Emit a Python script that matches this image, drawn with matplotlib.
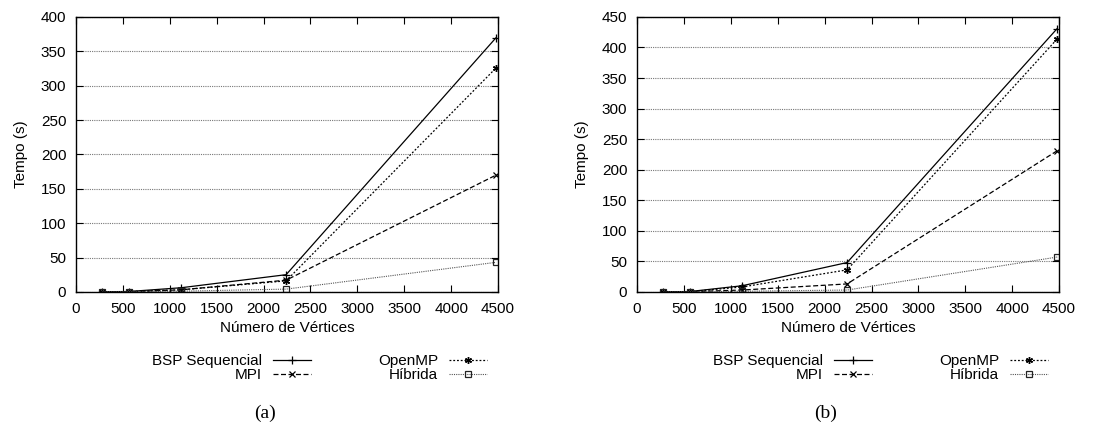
import matplotlib
matplotlib.use("Agg")
import matplotlib.pyplot as plt

plt.rcParams['font.family'] = ['Liberation Sans', 'DejaVu Sans']

# Dados
vertices = [280, 560, 1120, 2240, 4480]

bsp_a = [0.2, 0.5, 6, 25, 370]
mpi_a = [0.2, 0.3, 3, 17, 170]
omp_a = [0.2, 0.3, 3, 16, 326]
hib_a = [0.1, 0.2, 1, 4, 43]

bsp_b = [0.2, 0.5, 10, 48, 431]
mpi_b = [0.2, 0.3, 3, 13, 231]
omp_b = [0.2, 0.3, 8, 36, 414]
hib_b = [0.1, 0.2, 1, 3, 57]

labels = ["BSP Sequencial", "MPI", "OpenMP", "Híbrida"]
xticks = [0, 500, 1000, 1500, 2000, 2500, 3000, 3500, 4000, 4500]


def draw_panel(fig, ax, series, ymax, ystep, caption):
    styles = [
        dict(color='black', linestyle='-', marker='+', lw=0.9, ms=6, mew=0.9),
        dict(color='black', linestyle=(0, (4, 2)), marker='x', lw=0.9, ms=4.5, mew=0.9),
        dict(color='black', linestyle=(0, (1.5, 1.5)), marker=(6, 2, 0), lw=0.9, ms=5, mew=1.0),
        dict(color='#555555', linestyle=(0, (1, 1)), marker='s', lw=0.8, ms=5,
             mfc='none', mec='#222222', mew=0.9),
    ]
    handles = []
    for ys, lab, st in zip(series, labels, styles):
        h, = ax.plot(vertices, ys, label=lab, **st)
        handles.append(h)

    ax.set_xlim(0, 4500)
    ax.set_ylim(0, ymax)
    ax.set_xticks(xticks)
    ax.set_yticks(range(0, ymax + 1, ystep))
    ax.tick_params(direction='in', top=True, right=True, labelsize=11, length=5, pad=7)
    ax.yaxis.grid(True, color='#777777', linestyle=(0, (1, 1)), lw=0.8)
    for sp in ax.spines.values():
        sp.set_linewidth(1.0)
    ax.set_xlabel("Número de Vértices", fontsize=11, labelpad=4)
    ax.set_ylabel("Tempo (s)", fontsize=11, labelpad=9)

    ax.legend(handles=handles, ncol=2, markerfirst=False, frameon=False,
              loc='upper center', bbox_to_anchor=(0.577, -0.198), fontsize=11,
              handlelength=2.5, handletextpad=0.7, columnspacing=4.36,
              labelspacing=0.0, borderpad=0)
    for t in ax.get_legend().get_texts():
        t.set_ha('right')

    pos = ax.get_position()
    fig.text(pos.x0 + 0.5 * pos.width - 0.02, 0.024, caption, ha='center', va='center',
             fontsize=14, family='Liberation Serif')


fig = plt.figure(figsize=(11.18, 4.23), dpi=100)
ax1 = fig.add_axes([0.068, 0.31, 0.3775, 0.65])
ax2 = fig.add_axes([0.5698, 0.31, 0.3775, 0.65])

draw_panel(fig, ax1, [bsp_a, mpi_a, omp_a, hib_a], 400, 50, "(a)")
draw_panel(fig, ax2, [bsp_b, mpi_b, omp_b, hib_b], 450, 50, "(b)")

fig.savefig("out.png", dpi=100)
